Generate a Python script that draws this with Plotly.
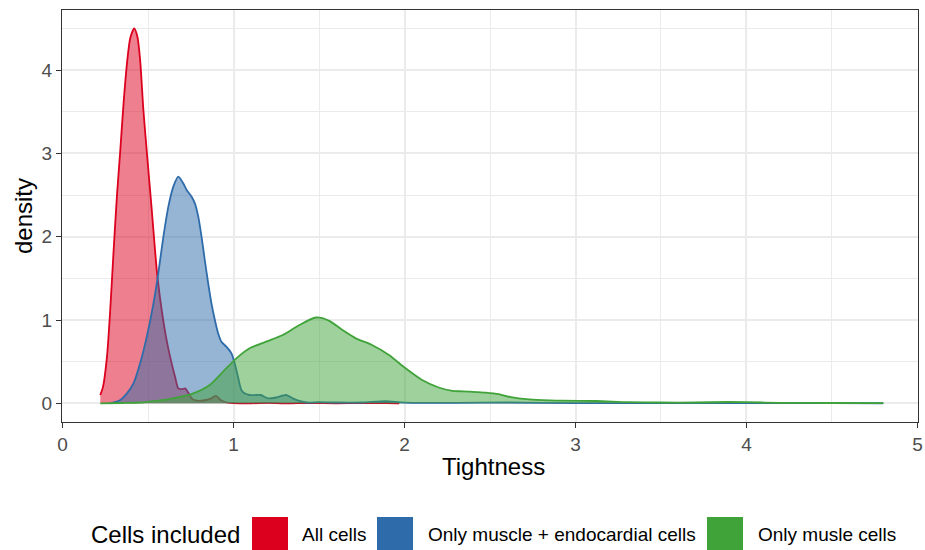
import plotly.graph_objects as go

# ---- data ----
series_names = ["All cells", "Only muscle + endocardial cells", "Only musle cells"]

all_x = [0.221, 0.237, 0.26, 0.279, 0.299, 0.318, 0.338, 0.357, 0.377, 0.396, 0.419, 0.438,
         0.454, 0.473, 0.497, 0.522, 0.541, 0.555, 0.58, 0.605, 0.629, 0.658, 0.677, 0.70,
         0.717, 0.735, 0.76, 0.80, 0.84, 0.87, 0.897, 0.925, 0.96, 1.0, 1.1, 1.2, 1.3, 1.45,
         1.6, 1.75, 1.9, 1.97]
all_y = [0.10, 0.20, 0.56, 1.12, 1.84, 2.48, 3.04, 3.60, 4.08, 4.38, 4.50, 4.40,
         4.12, 3.52, 2.92, 2.32, 1.84, 1.52, 1.12, 0.80, 0.56, 0.32, 0.18, 0.17,
         0.18, 0.13, 0.05, 0.03, 0.04, 0.06, 0.09, 0.04, 0.01, 0.003, 0.0, 0.005, 0.0, 0.004,
         0.0, 0.003, 0.004, 0.0]

endo_x = [0.279, 0.338, 0.377, 0.415, 0.454, 0.493, 0.532, 0.560, 0.590, 0.619, 0.648, 0.677,
          0.706, 0.726, 0.755, 0.774, 0.794, 0.813, 0.832, 0.852, 0.871, 0.891, 0.910, 0.929,
          0.958, 0.988, 1.007, 1.026, 1.046, 1.065, 1.094, 1.133, 1.16, 1.2, 1.25, 1.308,
          1.346, 1.385, 1.43, 1.5, 1.6, 1.75, 1.89, 2.0, 2.3, 2.6, 3.0, 3.5, 4.0, 4.5, 4.80]
endo_y = [0.0, 0.04, 0.12, 0.24, 0.48, 0.80, 1.20, 1.56, 2.00, 2.36, 2.60, 2.72,
          2.64, 2.56, 2.48, 2.40, 2.24, 2.00, 1.72, 1.44, 1.20, 1.00, 0.84, 0.74,
          0.68, 0.60, 0.48, 0.32, 0.16, 0.12, 0.10, 0.10, 0.10, 0.06, 0.07, 0.10,
          0.06, 0.03, 0.01, 0.015, 0.01, 0.01, 0.025, 0.008, 0.005, 0.01, 0.003, 0.002, 0.003,
          0.002, 0.001]

muscle_x = [0.221, 0.35, 0.454, 0.55, 0.648, 0.765, 0.861, 0.939, 1.017, 1.094, 1.19, 1.288,
            1.385, 1.482, 1.56, 1.637, 1.715, 1.81, 1.909, 2.006, 2.103, 2.2, 2.28, 2.34,
            2.42, 2.475, 2.55, 2.62, 2.73, 2.85, 2.92, 3.12, 3.31, 3.5, 3.7, 3.89, 4.0, 4.2,
            4.5, 4.80]
muscle_y = [0.0, 0.004, 0.01, 0.03, 0.06, 0.12, 0.22, 0.38, 0.54, 0.66, 0.74, 0.82,
            0.94, 1.03, 0.99, 0.88, 0.78, 0.70, 0.58, 0.42, 0.28, 0.19, 0.15, 0.144,
            0.135, 0.128, 0.11, 0.075, 0.048, 0.036, 0.032, 0.028, 0.014, 0.010, 0.010, 0.016,
            0.014, 0.006, 0.004, 0.003]

x_ticks = [0, 1, 2, 3, 4, 5]
y_ticks = [0, 1, 2, 3, 4]

colors = [(220, 0, 30), (46, 107, 170), (64, 163, 58)]

# ---- layout geometry ----
W, H = 925, 550
L, R, T, B = 62, 7, 10, 128
PW, PH = W - L - R, H - T - B

def px(X):
    return (X - L) / PW

def py(Y):
    return (H - B - Y) / PH

FONT = "Liberation Sans, Arial, Helvetica, sans-serif"

fig = go.Figure()
for name, xs, ys, c in zip(series_names, [all_x, endo_x, muscle_x], [all_y, endo_y, muscle_y], colors):
    fig.add_trace(go.Scatter(
        x=xs, y=ys, name=name, mode="lines", fill="tozeroy",
        line=dict(color="rgb(%d,%d,%d)" % c, width=1.8, shape="spline", smoothing=0.7),
        fillcolor="rgba(%d,%d,%d,0.5)" % c, showlegend=False,
    ))

axis_common = dict(
    showline=True, mirror=True, linecolor="#333333", linewidth=1.2,
    ticks="outside", ticklen=5, tickwidth=1.2, tickcolor="#333333",
    tickfont=dict(family=FONT, size=19, color="#4D4D4D"),
    showgrid=True, gridcolor="#EBEBEB", gridwidth=1.6, zeroline=False,
    ticklabeloverflow="allow", automargin=False,
)

fig.update_xaxes(range=[-0.003, 5.003], tickvals=x_ticks, ticktext=[str(v) for v in x_ticks],
                 minor=dict(dtick=0.5, tick0=0, showgrid=True, gridcolor="#EBEBEB", gridwidth=0.8),
                 **axis_common)
fig.update_yaxes(range=[-0.224, 4.72], tickvals=y_ticks, ticktext=[str(v) for v in y_ticks],
                 minor=dict(dtick=0.5, tick0=0, showgrid=True, gridcolor="#EBEBEB", gridwidth=0.8),
                 **axis_common)

annotations = [
    dict(text="Tightness", x=px(493), y=py(466), xref="paper", yref="paper",
         xanchor="center", yanchor="middle", showarrow=False,
         font=dict(family=FONT, size=24, color="black")),
    dict(text="density", x=px(23), y=py(216), xref="paper", yref="paper",
         xanchor="center", yanchor="middle", showarrow=False, textangle=-90,
         font=dict(family=FONT, size=24, color="black")),
    dict(text="Cells included", x=px(89), y=py(534), xref="paper", yref="paper",
         xanchor="left", yanchor="middle", showarrow=False,
         font=dict(family=FONT, size=24, color="black")),
]
shapes = []
key_left = [252, 377, 707]
label_left = [300, 426, 756]
for name, c, kl, ll in zip(series_names, colors, key_left, label_left):
    shapes.append(dict(type="rect", xref="paper", yref="paper",
                       x0=px(kl), x1=px(kl + 36), y0=py(517), y1=py(553),
                       fillcolor="rgb(%d,%d,%d)" % c, line=dict(width=0), layer="above"))
    annotations.append(dict(text=name, x=px(ll), y=py(534), xref="paper", yref="paper",
                            xanchor="left", yanchor="middle", showarrow=False,
                            font=dict(family=FONT, size=19, color="black")))

fig.update_layout(
    width=W, height=H, margin=dict(l=L, r=R, t=T, b=B),
    paper_bgcolor="white", plot_bgcolor="white",
    showlegend=False, annotations=annotations, shapes=shapes,
    font=dict(family=FONT),
)

fig.write_html("out.html")
